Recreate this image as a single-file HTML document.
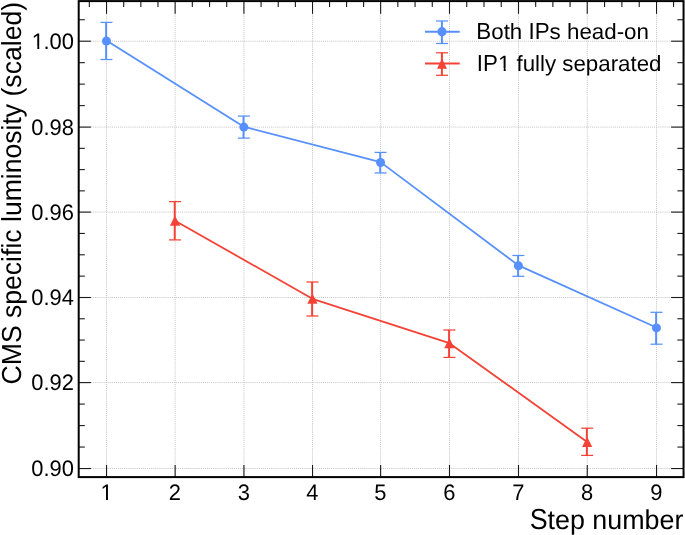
<!DOCTYPE html>
<html><head><meta charset="utf-8"><style>
html,body{margin:0;padding:0;background:#fff;}
body{width:685px;height:535px;overflow:hidden;}
svg{display:block;font-family:"Liberation Sans",sans-serif;text-rendering:geometricPrecision;will-change:transform;}
</style></head><body>
<svg width="685" height="535" viewBox="0 0 685 535">
<rect width="685" height="535" fill="#fff"/>
<defs><clipPath id="c1_223" clipPathUnits="userSpaceOnUse"><rect x="-2" y="-22.300" width="15.610" height="19.828"/><rect x="5.597" y="-4.460" width="1.985" height="11.150"/></clipPath><clipPath id="c1_220" clipPathUnits="userSpaceOnUse"><rect x="-2" y="-22.000" width="15.400" height="19.550"/><rect x="5.522" y="-4.400" width="1.958" height="11.000"/></clipPath></defs>
<g stroke="#c2c2c2" stroke-width="1" stroke-dasharray="1 1.07" fill="none">
<line x1="106.54" y1="1.1" x2="106.54" y2="477.1"/>
<line x1="175.13" y1="1.1" x2="175.13" y2="477.1"/>
<line x1="243.93" y1="1.1" x2="243.93" y2="477.1"/>
<line x1="312.53" y1="1.1" x2="312.53" y2="477.1"/>
<line x1="380.63" y1="1.1" x2="380.63" y2="477.1"/>
<line x1="449.49" y1="1.1" x2="449.49" y2="477.1"/>
<line x1="518.49" y1="1.1" x2="518.49" y2="477.1"/>
<line x1="587.25" y1="1.1" x2="587.25" y2="477.1"/>
<line x1="656.54" y1="1.1" x2="656.54" y2="477.1"/>
<line x1="78.7" y1="41.20" x2="683.55" y2="41.20"/>
<line x1="78.7" y1="127.10" x2="683.55" y2="127.10"/>
<line x1="78.7" y1="212.10" x2="683.55" y2="212.10"/>
<line x1="78.7" y1="297.50" x2="683.55" y2="297.50"/>
<line x1="78.7" y1="382.60" x2="683.55" y2="382.60"/>
<line x1="78.7" y1="468.55" x2="683.55" y2="468.55"/>
</g>
<g stroke="#1a1a1a" stroke-width="1.1" fill="none">
<line x1="106.54" y1="1.1" x2="106.54" y2="13.8"/>
<line x1="106.54" y1="477.1" x2="106.54" y2="464.9"/>
<line x1="175.13" y1="1.1" x2="175.13" y2="13.8"/>
<line x1="175.13" y1="477.1" x2="175.13" y2="464.9"/>
<line x1="243.93" y1="1.1" x2="243.93" y2="13.8"/>
<line x1="243.93" y1="477.1" x2="243.93" y2="464.9"/>
<line x1="312.53" y1="1.1" x2="312.53" y2="13.8"/>
<line x1="312.53" y1="477.1" x2="312.53" y2="464.9"/>
<line x1="380.63" y1="1.1" x2="380.63" y2="13.8"/>
<line x1="380.63" y1="477.1" x2="380.63" y2="464.9"/>
<line x1="449.49" y1="1.1" x2="449.49" y2="13.8"/>
<line x1="449.49" y1="477.1" x2="449.49" y2="464.9"/>
<line x1="518.49" y1="1.1" x2="518.49" y2="13.8"/>
<line x1="518.49" y1="477.1" x2="518.49" y2="464.9"/>
<line x1="587.25" y1="1.1" x2="587.25" y2="13.8"/>
<line x1="587.25" y1="477.1" x2="587.25" y2="464.9"/>
<line x1="656.54" y1="1.1" x2="656.54" y2="13.8"/>
<line x1="656.54" y1="477.1" x2="656.54" y2="464.9"/>
<line x1="89.35" y1="1.1" x2="89.35" y2="6.9"/>
<line x1="123.69" y1="1.1" x2="123.69" y2="6.9"/>
<line x1="140.84" y1="1.1" x2="140.84" y2="6.9"/>
<line x1="157.98" y1="1.1" x2="157.98" y2="6.9"/>
<line x1="192.33" y1="1.1" x2="192.33" y2="6.9"/>
<line x1="209.53" y1="1.1" x2="209.53" y2="6.9"/>
<line x1="226.73" y1="1.1" x2="226.73" y2="6.9"/>
<line x1="261.08" y1="1.1" x2="261.08" y2="6.9"/>
<line x1="278.23" y1="1.1" x2="278.23" y2="6.9"/>
<line x1="295.38" y1="1.1" x2="295.38" y2="6.9"/>
<line x1="329.55" y1="1.1" x2="329.55" y2="6.9"/>
<line x1="346.58" y1="1.1" x2="346.58" y2="6.9"/>
<line x1="363.61" y1="1.1" x2="363.61" y2="6.9"/>
<line x1="397.85" y1="1.1" x2="397.85" y2="6.9"/>
<line x1="415.06" y1="1.1" x2="415.06" y2="6.9"/>
<line x1="432.27" y1="1.1" x2="432.27" y2="6.9"/>
<line x1="466.74" y1="1.1" x2="466.74" y2="6.9"/>
<line x1="483.99" y1="1.1" x2="483.99" y2="6.9"/>
<line x1="501.24" y1="1.1" x2="501.24" y2="6.9"/>
<line x1="535.68" y1="1.1" x2="535.68" y2="6.9"/>
<line x1="552.87" y1="1.1" x2="552.87" y2="6.9"/>
<line x1="570.06" y1="1.1" x2="570.06" y2="6.9"/>
<line x1="604.57" y1="1.1" x2="604.57" y2="6.9"/>
<line x1="621.89" y1="1.1" x2="621.89" y2="6.9"/>
<line x1="639.22" y1="1.1" x2="639.22" y2="6.9"/>
<line x1="673.54" y1="1.1" x2="673.54" y2="6.9"/>
<line x1="78.7" y1="41.20" x2="90.9" y2="41.20"/>
<line x1="683.55" y1="41.20" x2="671.1" y2="41.20"/>
<line x1="78.7" y1="127.10" x2="90.9" y2="127.10"/>
<line x1="683.55" y1="127.10" x2="671.1" y2="127.10"/>
<line x1="78.7" y1="212.10" x2="90.9" y2="212.10"/>
<line x1="683.55" y1="212.10" x2="671.1" y2="212.10"/>
<line x1="78.7" y1="297.50" x2="90.9" y2="297.50"/>
<line x1="683.55" y1="297.50" x2="671.1" y2="297.50"/>
<line x1="78.7" y1="382.60" x2="90.9" y2="382.60"/>
<line x1="683.55" y1="382.60" x2="671.1" y2="382.60"/>
<line x1="78.7" y1="468.55" x2="90.9" y2="468.55"/>
<line x1="683.55" y1="468.55" x2="671.1" y2="468.55"/>
<line x1="78.7" y1="19.73" x2="84.8" y2="19.73"/>
<line x1="683.55" y1="19.73" x2="677.4" y2="19.73"/>
<line x1="78.7" y1="62.67" x2="84.8" y2="62.67"/>
<line x1="683.55" y1="62.67" x2="677.4" y2="62.67"/>
<line x1="78.7" y1="84.15" x2="84.8" y2="84.15"/>
<line x1="683.55" y1="84.15" x2="677.4" y2="84.15"/>
<line x1="78.7" y1="105.62" x2="84.8" y2="105.62"/>
<line x1="683.55" y1="105.62" x2="677.4" y2="105.62"/>
<line x1="78.7" y1="148.35" x2="84.8" y2="148.35"/>
<line x1="683.55" y1="148.35" x2="677.4" y2="148.35"/>
<line x1="78.7" y1="169.60" x2="84.8" y2="169.60"/>
<line x1="683.55" y1="169.60" x2="677.4" y2="169.60"/>
<line x1="78.7" y1="190.85" x2="84.8" y2="190.85"/>
<line x1="683.55" y1="190.85" x2="677.4" y2="190.85"/>
<line x1="78.7" y1="233.45" x2="84.8" y2="233.45"/>
<line x1="683.55" y1="233.45" x2="677.4" y2="233.45"/>
<line x1="78.7" y1="254.80" x2="84.8" y2="254.80"/>
<line x1="683.55" y1="254.80" x2="677.4" y2="254.80"/>
<line x1="78.7" y1="276.15" x2="84.8" y2="276.15"/>
<line x1="683.55" y1="276.15" x2="677.4" y2="276.15"/>
<line x1="78.7" y1="318.77" x2="84.8" y2="318.77"/>
<line x1="683.55" y1="318.77" x2="677.4" y2="318.77"/>
<line x1="78.7" y1="340.05" x2="84.8" y2="340.05"/>
<line x1="683.55" y1="340.05" x2="677.4" y2="340.05"/>
<line x1="78.7" y1="361.33" x2="84.8" y2="361.33"/>
<line x1="683.55" y1="361.33" x2="677.4" y2="361.33"/>
<line x1="78.7" y1="404.09" x2="84.8" y2="404.09"/>
<line x1="683.55" y1="404.09" x2="677.4" y2="404.09"/>
<line x1="78.7" y1="425.58" x2="84.8" y2="425.58"/>
<line x1="683.55" y1="425.58" x2="677.4" y2="425.58"/>
<line x1="78.7" y1="447.06" x2="84.8" y2="447.06"/>
<line x1="683.55" y1="447.06" x2="677.4" y2="447.06"/>
</g>
<path d="M106.44 40.60 L243.83 126.70 L380.53 162.10 L518.39 265.40 L656.44 327.50" stroke="#5790fc" stroke-width="1.8" fill="none" stroke-linejoin="round"/>
<line x1="106.14" y1="22.40" x2="106.14" y2="59.50" stroke="#5790fc" stroke-width="2"/>
<line x1="100.44" y1="22.40" x2="112.44" y2="22.40" stroke="#5790fc" stroke-width="1.25"/>
<line x1="100.44" y1="59.50" x2="112.44" y2="59.50" stroke="#5790fc" stroke-width="1.25"/>
<line x1="243.53" y1="116.10" x2="243.53" y2="138.10" stroke="#5790fc" stroke-width="2"/>
<line x1="237.83" y1="116.10" x2="249.83" y2="116.10" stroke="#5790fc" stroke-width="1.25"/>
<line x1="237.83" y1="138.10" x2="249.83" y2="138.10" stroke="#5790fc" stroke-width="1.25"/>
<line x1="380.23" y1="152.40" x2="380.23" y2="172.95" stroke="#5790fc" stroke-width="2"/>
<line x1="374.53" y1="152.40" x2="386.53" y2="152.40" stroke="#5790fc" stroke-width="1.25"/>
<line x1="374.53" y1="172.95" x2="386.53" y2="172.95" stroke="#5790fc" stroke-width="1.25"/>
<line x1="518.09" y1="255.50" x2="518.09" y2="276.30" stroke="#5790fc" stroke-width="2"/>
<line x1="512.39" y1="255.50" x2="524.39" y2="255.50" stroke="#5790fc" stroke-width="1.25"/>
<line x1="512.39" y1="276.30" x2="524.39" y2="276.30" stroke="#5790fc" stroke-width="1.25"/>
<line x1="656.14" y1="312.30" x2="656.14" y2="344.20" stroke="#5790fc" stroke-width="2"/>
<line x1="650.44" y1="312.30" x2="662.44" y2="312.30" stroke="#5790fc" stroke-width="1.25"/>
<line x1="650.44" y1="344.20" x2="662.44" y2="344.20" stroke="#5790fc" stroke-width="1.25"/>
<circle cx="106.44" cy="41.00" r="4.5" fill="#5790fc"/>
<circle cx="243.83" cy="127.10" r="4.5" fill="#5790fc"/>
<circle cx="380.53" cy="162.50" r="4.5" fill="#5790fc"/>
<circle cx="518.39" cy="265.80" r="4.5" fill="#5790fc"/>
<circle cx="656.44" cy="327.90" r="4.5" fill="#5790fc"/>
<path d="M175.03 220.70 L312.43 298.80 L449.39 343.20 L587.15 441.90" stroke="#f44336" stroke-width="1.8" fill="none" stroke-linejoin="round"/>
<line x1="174.73" y1="201.60" x2="174.73" y2="239.90" stroke="#f44336" stroke-width="2"/>
<line x1="169.03" y1="201.60" x2="181.03" y2="201.60" stroke="#f44336" stroke-width="1.25"/>
<line x1="169.03" y1="239.90" x2="181.03" y2="239.90" stroke="#f44336" stroke-width="1.25"/>
<line x1="312.13" y1="282.00" x2="312.13" y2="316.00" stroke="#f44336" stroke-width="2"/>
<line x1="306.43" y1="282.00" x2="318.43" y2="282.00" stroke="#f44336" stroke-width="1.25"/>
<line x1="306.43" y1="316.00" x2="318.43" y2="316.00" stroke="#f44336" stroke-width="1.25"/>
<line x1="449.09" y1="330.00" x2="449.09" y2="357.40" stroke="#f44336" stroke-width="2"/>
<line x1="443.39" y1="330.00" x2="455.39" y2="330.00" stroke="#f44336" stroke-width="1.25"/>
<line x1="443.39" y1="357.40" x2="455.39" y2="357.40" stroke="#f44336" stroke-width="1.25"/>
<line x1="586.85" y1="428.20" x2="586.85" y2="455.40" stroke="#f44336" stroke-width="2"/>
<line x1="581.15" y1="428.20" x2="593.15" y2="428.20" stroke="#f44336" stroke-width="1.25"/>
<line x1="581.15" y1="455.40" x2="593.15" y2="455.40" stroke="#f44336" stroke-width="1.25"/>
<path d="M175.03 215.50 L180.13 225.70 L169.93 225.70 Z" fill="#f44336"/>
<path d="M312.43 293.60 L317.53 303.80 L307.33 303.80 Z" fill="#f44336"/>
<path d="M449.39 338.00 L454.49 348.20 L444.29 348.20 Z" fill="#f44336"/>
<path d="M587.15 436.70 L592.25 446.90 L582.05 446.90 Z" fill="#f44336"/>
<line x1="425" y1="31.7" x2="459.7" y2="31.7" stroke="#5790fc" stroke-width="2"/>
<line x1="441.9" y1="21.0" x2="441.9" y2="43.5" stroke="#5790fc" stroke-width="2"/>
<line x1="436.1" y1="21.0" x2="448.0" y2="21.0" stroke="#5790fc" stroke-width="1.25"/>
<line x1="436.1" y1="43.5" x2="448.0" y2="43.5" stroke="#5790fc" stroke-width="1.25"/>
<circle cx="442" cy="31.7" r="4.6" fill="#5790fc"/>
<line x1="425" y1="63.5" x2="459.7" y2="63.5" stroke="#f44336" stroke-width="2"/>
<line x1="441.9" y1="52.8" x2="441.9" y2="75.3" stroke="#f44336" stroke-width="2"/>
<line x1="436.1" y1="52.8" x2="448.0" y2="52.8" stroke="#f44336" stroke-width="1.25"/>
<line x1="436.1" y1="75.3" x2="448.0" y2="75.3" stroke="#f44336" stroke-width="1.25"/>
<path d="M442 58.60 L447.0 68.70 L437.0 68.70 Z" fill="#f44336"/>
<text transform="translate(476.35 38.80) scale(1.0018 1.0400)" font-size="22.3" style="white-space:pre">B</text>
<text transform="translate(491.24 38.80) scale(1.0018 0.9900)" font-size="22.3" style="white-space:pre">oth </text>
<text transform="translate(528.49 38.80) scale(1.0018 1.0400)" font-size="22.3" style="white-space:pre">IP</text>
<text transform="translate(549.61 38.80) scale(1.0018 0.9900)" font-size="22.3" style="white-space:pre">s head-on</text>
<text transform="translate(476.80 70.70) scale(1.0003 1.0400)" font-size="22.3" style="white-space:pre">IP</text>
<text transform="translate(498.115 70.700) scale(1.0003 0.9900)" font-size="22.3" clip-path="url(#c1_223)">1</text>
<text transform="translate(510.26 70.70) scale(1.0003 0.9900)" font-size="22.3" style="white-space:pre"> fully separated</text>
<rect x="78.7" y="1.1" width="604.8499999999999" height="476.0" fill="none" stroke="#000" stroke-width="2.0"/>
<text transform="translate(100.533 499.900) scale(0.9964 1.0200)" font-size="22" clip-path="url(#c1_220)">1</text>
<text transform="translate(174.93 499.90) scale(0.9964 1.0200)" font-size="22" text-anchor="middle">2</text>
<text transform="translate(243.73 499.90) scale(0.9964 1.0200)" font-size="22" text-anchor="middle">3</text>
<text transform="translate(312.33 499.90) scale(0.9964 1.0200)" font-size="22" text-anchor="middle">4</text>
<text transform="translate(380.43 499.90) scale(0.9964 1.0200)" font-size="22" text-anchor="middle">5</text>
<text transform="translate(449.29 499.90) scale(0.9964 1.0200)" font-size="22" text-anchor="middle">6</text>
<text transform="translate(518.29 499.90) scale(0.9964 1.0200)" font-size="22" text-anchor="middle">7</text>
<text transform="translate(587.05 499.90) scale(0.9964 1.0200)" font-size="22" text-anchor="middle">8</text>
<text transform="translate(656.34 499.90) scale(0.9964 1.0200)" font-size="22" text-anchor="middle">9</text>
<text transform="translate(31.829 49.050) scale(0.9964 1.0200)" font-size="22" clip-path="url(#c1_220)">1</text>
<text transform="translate(73.95 49.05) scale(0.9964 1.0200)" font-size="22" text-anchor="end">.00</text>
<text transform="translate(73.95 134.95) scale(0.9964 1.0200)" font-size="22" text-anchor="end">0.98</text>
<text transform="translate(73.95 219.95) scale(0.9964 1.0200)" font-size="22" text-anchor="end">0.96</text>
<text transform="translate(73.95 305.35) scale(0.9964 1.0200)" font-size="22" text-anchor="end">0.94</text>
<text transform="translate(73.95 390.45) scale(0.9964 1.0200)" font-size="22" text-anchor="end">0.92</text>
<text transform="translate(73.95 476.40) scale(0.9964 1.0200)" font-size="22" text-anchor="end">0.90</text>
<text transform="translate(529.64 528.70) scale(1.0093 1.0900)" font-size="26.6" style="white-space:pre">S</text>
<text transform="translate(547.54 528.70) scale(1.0093 1.0200)" font-size="26.6" style="white-space:pre">tep number</text>
<text transform="translate(20.8 384.45) rotate(-90) scale(0.9993 1.0347)" font-size="26.6">CMS specific luminosity (scaled)</text>
</svg>
</body></html>
